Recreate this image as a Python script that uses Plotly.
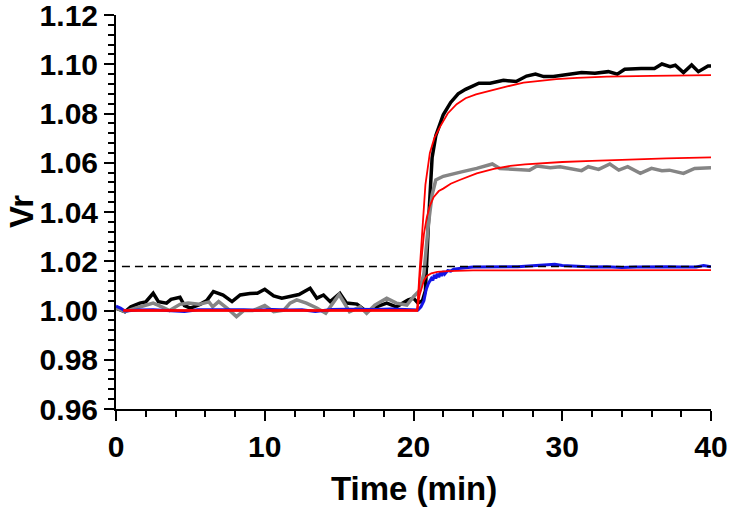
import plotly.graph_objects as go

# ---------------- data ----------------
black_t = [0, 0.6, 1.0, 1.6, 2.0, 2.5, 2.85, 3.4, 3.7, 4.3, 4.6, 5.0, 5.65, 6.1, 6.55, 7.2, 7.8, 8.35, 9.0, 9.5,
           10.0, 10.6, 11.15, 11.9, 12.3, 13.05, 13.5, 13.95, 14.4, 15.05, 15.5, 16.2, 16.85, 17.5, 18.2, 18.85,
           19.3, 19.65, 20.0, 20.3, 20.6, 20.8, 21.0, 21.25, 21.5, 22.0, 22.5, 23.0, 23.5, 24.0, 24.4, 25.15,
           26.05, 26.9, 27.6, 28.2, 28.75, 29.4, 30.4, 31.3, 32.2, 33.1, 33.7, 34.2, 35.3, 36.2, 36.7, 37.25,
           37.6, 38.15, 38.7, 39.15, 39.8, 40.0]
black_v = [1.001, 0.9995, 1.0015, 1.003, 1.0035, 1.007, 1.0036, 1.003, 1.0045, 1.0054, 1.002, 1.001, 1.0025, 1.004,
           1.0077, 1.0063, 1.0036, 1.0063, 1.0069, 1.007, 1.0086, 1.0059, 1.005, 1.006, 1.0065, 1.009, 1.005,
           1.0063, 1.0036, 1.007, 1.003, 1.0026, 0.9995, 1.0015, 1.003, 1.0015, 1.003, 1.0043, 1.005, 1.003,
           1.004, 1.008, 1.035, 1.062, 1.071, 1.0795, 1.0845, 1.088, 1.0898, 1.091, 1.0923, 1.0923, 1.0935,
           1.093, 1.0952, 1.096, 1.095, 1.095, 1.096, 1.0966, 1.0963, 1.097, 1.096, 1.098, 1.0983, 1.0983,
           1.1001, 1.099, 1.0996, 1.0966, 1.0997, 1.097, 1.0993, 1.0993]

gray_t = [0, 0.6, 1.35, 2.5, 2.9, 3.6, 4.3, 4.85, 5.6, 6.25, 6.5, 6.9, 7.5, 8.1, 8.6, 9.2, 10.0, 10.6, 11.3, 11.7,
          12.15, 12.8, 13.5, 14.1, 15.0, 15.7, 16.4, 16.85, 17.4, 18.2, 18.85, 19.55, 20.0, 20.4, 20.7, 21.0,
          21.25, 21.5, 22.0, 22.7, 23.3, 24.25, 25.3, 25.8, 26.9, 27.8, 28.3, 29.2, 29.85, 30.4, 31.3, 31.75,
          32.45, 33.2, 33.8, 34.4, 35.25, 36.0, 36.7, 37.2, 38.15, 38.9, 40.0]
gray_v = [1.001, 0.9995, 1.001, 1.003, 1.002, 1.0, 1.0025, 1.003, 1.0025, 1.0035, 1.0015, 1.0036, 1.0008, 0.9975,
          1.0, 1.0, 1.002, 0.9995, 1.0002, 1.003, 1.0043, 1.003, 1.001, 0.9989, 1.0065, 0.9995, 1.0015, 0.9989,
          1.0022, 1.005, 1.003, 1.0022, 1.0056, 1.008, 1.015, 1.035, 1.047, 1.053, 1.0545, 1.0557, 1.0564,
          1.0577, 1.0595, 1.0577, 1.0575, 1.057, 1.0587, 1.058, 1.0584, 1.0577, 1.0568, 1.0584, 1.0573, 1.0595,
          1.057, 1.0584, 1.0557, 1.0577, 1.0568, 1.057, 1.0557, 1.0577, 1.058]

blue_t = [0, 0.3, 0.6, 1.5, 2.5, 3.5, 4.6, 5.5, 6.5, 7.5, 8.5, 9.5, 10.5, 11.5, 12.5, 13.4, 14.5, 15.5, 16.5,
          17.5, 18.5, 19.5, 20.3, 20.5, 20.7, 20.85, 21.0, 21.2, 21.3, 21.4, 21.5, 21.6, 21.7, 21.8, 21.9, 22.0,
          22.1, 22.3, 22.5, 22.7, 23.0, 23.5, 24.0, 25.0, 26.0, 27.0, 28.0, 29.0, 29.5, 30.0, 31.0, 32.0, 33.0,
          34.0, 35.0, 36.0, 37.0, 38.0, 39.0, 39.5, 40.0]
blue_v = [1.0018, 1.001, 0.9998, 1.0002, 1.0003, 1.0001, 0.9996, 1.0003, 1.0004, 1.0002, 1.0003, 1.0001, 1.0004,
          1.0002, 1.0003, 0.9996, 1.0004, 1.0005, 1.0003, 1.0004, 1.0006, 1.0003, 1.0002, 1.0015, 1.004, 1.0085,
          1.011, 1.013, 1.0122, 1.0145, 1.013, 1.015, 1.0135, 1.0155, 1.014, 1.016, 1.0148, 1.0162, 1.016,
          1.0168, 1.0171, 1.0174, 1.0177, 1.0177, 1.018, 1.0178, 1.0182, 1.0186, 1.0188, 1.0183, 1.018, 1.0177,
          1.0178, 1.0175, 1.0177, 1.0176, 1.0178, 1.0177, 1.0177, 1.0183, 1.0178]

fit_top_t = [0.5, 20.25, 20.4, 20.6, 20.8, 21.1, 21.4, 21.8, 22.3, 22.9, 23.5, 24.2, 25.15, 26.3, 27.4, 28.5,
             29.6, 31.0, 33.0, 36.0, 40.0]
fit_top_v = [1.0, 1.0, 1.015, 1.035, 1.051, 1.064, 1.070, 1.0748, 1.080, 1.0838, 1.0862, 1.0878, 1.0893,
             1.091, 1.0925, 1.0933, 1.094, 1.0945, 1.095, 1.0953, 1.0956]

fit_mid_t = [0.5, 20.25, 20.4, 20.55, 20.7, 20.9, 21.1, 21.35, 21.7, 22.0, 22.5, 23.1, 23.7, 24.25, 25.4, 26.5,
             27.5, 28.7, 30.0, 32.0, 34.0, 37.0, 40.0]
fit_mid_v = [1.0, 1.0, 1.012, 1.022, 1.031, 1.038, 1.0425, 1.046, 1.0485, 1.0495, 1.0515, 1.053, 1.0545,
             1.0557, 1.0575, 1.0587, 1.0593, 1.0598, 1.0603, 1.0608, 1.0613, 1.0618, 1.0622]

fit_low_t = [0.5, 20.25, 20.4, 20.55, 20.7, 20.9, 21.2, 21.6, 22.3, 24.0, 40.0]
fit_low_v = [1.0, 1.0, 1.006, 1.0095, 1.0122, 1.014, 1.0151, 1.0157, 1.016, 1.0163, 1.0164]

ref_t = [0.4, 40.0]
ref_v = [1.0179, 1.0179]

x_ticks = [0, 10, 20, 30, 40]
y_ticks = [0.96, 0.98, 1.00, 1.02, 1.04, 1.06, 1.08, 1.10, 1.12]

# ---------------- figure ----------------
fig = go.Figure()
fig.add_trace(go.Scatter(x=black_t, y=black_v, mode="lines",
                         line=dict(color="#000000", width=3.5), showlegend=False))
fig.add_trace(go.Scatter(x=gray_t, y=gray_v, mode="lines",
                         line=dict(color="#858585", width=3.5), showlegend=False))
fig.add_trace(go.Scatter(x=blue_t, y=blue_v, mode="lines",
                         line=dict(color="#1414e6", width=3), showlegend=False))
fig.add_trace(go.Scatter(x=ref_t, y=ref_v, mode="lines",
                         line=dict(color="#000000", width=1.5, dash="8px,5px"), showlegend=False))
for ft, fv in [(fit_top_t, fit_top_v), (fit_mid_t, fit_mid_v), (fit_low_t, fit_low_v)]:
    fig.add_trace(go.Scatter(x=ft, y=fv, mode="lines",
                             line=dict(color="#ff0000", width=1.8), showlegend=False))

tick_font = dict(family="Arial, Liberation Sans, sans-serif", size=30, color="black", weight="bold")
title_font = dict(family="Arial, Liberation Sans, sans-serif", size=33, color="black", weight="bold")

fig.update_layout(
    width=732, height=508,
    margin=dict(l=116, r=21, t=15, b=99, autoexpand=False),
    paper_bgcolor="white", plot_bgcolor="white",
    hovermode=False,
    xaxis=dict(range=[0, 40], tickvals=x_ticks, ticktext=[str(v) for v in x_ticks], automargin=False,
               ticklabeloverflow="allow",
               showgrid=False, zeroline=False, showline=True, linecolor="black", linewidth=2,
               ticks="outside", ticklen=10, tickwidth=2, tickcolor="black", tickfont=tick_font,
               minor=dict(ticks="outside", ticklen=6, tickwidth=2, tickcolor="black", dtick=2, tick0=0,
                          showgrid=False)),
    yaxis=dict(range=[0.96, 1.12], tickvals=y_ticks, ticktext=["%.2f" % v for v in y_ticks], automargin=False,
               ticklabeloverflow="allow",
               showgrid=False, zeroline=False, showline=True, linecolor="black", linewidth=2,
               ticks="outside", ticklen=10, tickwidth=2, tickcolor="black", tickfont=tick_font,
               minor=dict(ticks="outside", ticklen=6, tickwidth=2, tickcolor="black", dtick=0.004,
                          tick0=0.96, showgrid=False)),
    annotations=[
        dict(text="Time (min)", xref="paper", yref="paper", x=0.5, y=0, xanchor="center",
             yanchor="middle", yshift=-79, showarrow=False, font=title_font),
        dict(text="Vr", xref="paper", yref="paper", x=0, y=0.5, xanchor="center", yanchor="middle",
             xshift=-95, textangle=-90, showarrow=False, font=title_font),
    ],
)

# remove the default 8px page margin so the 732x508 figure fills the window exactly
fig.write_html("out.html", config={"displayModeBar": False},
               post_script="document.body.style.margin='0px';document.body.style.overflow='hidden';")
